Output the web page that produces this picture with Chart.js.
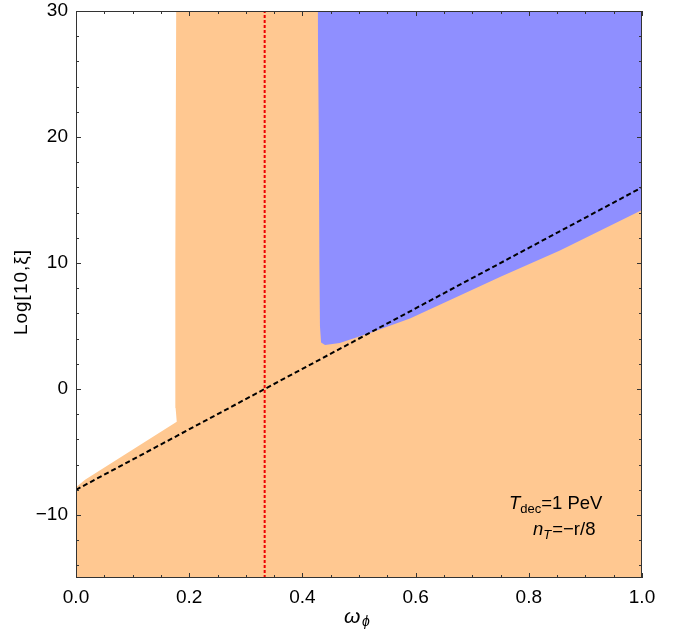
<!DOCTYPE html>
<html>
<head>
<meta charset="utf-8">
<script src="https://cdn.jsdelivr.net/npm/chart.js@4"></script>
<style>
  html, body { margin: 0; padding: 0; background: #fff; }
  #wrap { width: 686px; height: 629px; }
</style>
</head>
<body>
<div id="wrap"><canvas id="myChart"></canvas></div>
<script>
// orange region: upper edge, filled down to the bottom of the plot
const orangeX = [0, 0.016, 0.178, 0.176, 0.175, 0.176, 0.177, 1];
const orangeY = [-7.8, -7.2, -2.6, -1.5, 1, 10, 30, 30];

// blue region: lower/left edge, filled up to the top of the plot
const blueX = [0.427, 0.428, 0.429, 0.430, 0.431, 0.433, 0.440, 0.466, 0.519, 0.590, 0.661, 0.750, 0.855, 1];
const blueY = [30, 25, 20, 10, 5, 3.7, 3.5, 3.65, 4.44, 5.6, 7.06, 8.9, 11.0, 14.2];

// dashed reference line and red dotted line
const dashX = [0, 1];
const dashY = [-8, 16];
const redX = [1 / 3, 1 / 3];
const redY = [-15, 30];

// axis ticks
const xMajor = [0, 0.2, 0.4, 0.6, 0.8, 1];
const xMinor = [0.05, 0.1, 0.15, 0.25, 0.3, 0.35, 0.45, 0.5, 0.55, 0.65, 0.7, 0.75, 0.85, 0.9, 0.95];
const yMajor = [-10, 0, 10, 20, 30];
const yMinor = [-14, -12, -8, -6, -4, -2, 2, 4, 6, 8, 12, 14, 16, 18, 22, 24, 26, 28];

const FONT = "'Liberation Sans', Arial, sans-serif";

function pts(xs, ys)
{
  return xs.map((x, i) => ({x: x, y: ys[i]}));
}

const framePlugin = {
  id: "frame",
  afterDraw(chart) {
    const c = chart.ctx;
    const a = chart.chartArea;
    const sx = chart.scales.x;
    const sy = chart.scales.y;
    c.save();
    c.strokeStyle = "#333";
    c.lineWidth = 1;
    c.strokeRect(a.left + 0.5, a.top + 0.5, a.right - a.left - 1, a.bottom - a.top - 1);

    c.beginPath();
    const tickX = (v, len) => {
      const p = Math.round(sx.getPixelForValue(v)) + 0.5;
      c.moveTo(p, a.bottom); c.lineTo(p, a.bottom - len);
      c.moveTo(p, a.top); c.lineTo(p, a.top + len);
    };
    const tickY = (v, len) => {
      const p = Math.round(sy.getPixelForValue(v)) + 0.5;
      c.moveTo(a.left, p); c.lineTo(a.left + len, p);
      c.moveTo(a.right, p); c.lineTo(a.right - len, p);
    };
    xMajor.forEach(v => tickX(v, 5));
    xMinor.forEach(v => tickX(v, 3));
    yMajor.forEach(v => tickY(v, 5));
    yMinor.forEach(v => tickY(v, 3));
    c.stroke();

    // x title: omega with subscript phi
    c.fillStyle = "#000";
    c.textBaseline = "alphabetic";
    c.textAlign = "left";
    c.font = "italic 21px " + FONT;
    c.fillText("ω", 344, 623);
    c.font = "italic 14px " + FONT;
    c.fillText("ϕ", 362, 626);

    // y title
    c.save();
    c.translate(27, 292);
    c.rotate(-Math.PI / 2);
    c.textAlign = "center";
    c.font = "19px " + FONT;
    c.letterSpacing = "1px";
    c.fillText("Log[10,ξ]", 0, 0);
    c.restore();

    // annotation
    c.textAlign = "left";
    let x = 509;
    c.font = "italic 18.5px " + FONT;
    c.fillText("T", x, 509);
    x += c.measureText("T").width;
    c.font = "13px " + FONT;
    c.fillText("dec", x, 513);
    x += c.measureText("dec").width;
    c.font = "18.5px " + FONT;
    c.fillText("=1 PeV", x, 509);

    x = 533;
    c.font = "italic 18.5px " + FONT;
    c.fillText("n", x, 535);
    x += c.measureText("n").width;
    c.font = "italic 13px " + FONT;
    c.fillText("T", x, 539);
    x += c.measureText("T").width + 1;
    c.font = "18.5px " + FONT;
    c.fillText("=−r/8", x, 535);
    c.restore();
  }
};

new Chart(document.getElementById("myChart"), {
  type: "scatter",
  data: {
    datasets: [
      {
        data: pts(orangeX, orangeY),
        showLine: true,
        fill: "start",
        backgroundColor: "rgb(255,200,145)",
        borderWidth: 0,
        pointRadius: 0,
        order: 4,
      },
      {
        data: pts(blueX, blueY),
        showLine: true,
        fill: "end",
        backgroundColor: "rgb(143,143,255)",
        borderWidth: 0,
        pointRadius: 0,
        order: 3,
      },
      {
        data: pts(dashX, dashY),
        showLine: true,
        borderColor: "#000",
        borderWidth: 2,
        borderDash: [5, 3],
        pointRadius: 0,
        order: 2,
      },
      {
        data: pts(redX, redY),
        showLine: true,
        borderColor: "#e00",
        borderWidth: 2,
        borderDash: [3, 2],
        pointRadius: 0,
        order: 1,
      },
    ],
  },
  options: {
    responsive: true,
    maintainAspectRatio: false,
    animation: false,
    devicePixelRatio: 1,
    layout: {
      padding: {left: 0, top: 11, right: 44, bottom: 0},
    },
    plugins: {
      legend: {display: false},
      tooltip: {enabled: false},
    },
    scales: {
      x: {
        type: "linear",
        min: 0,
        max: 1,
        grid: {display: false, drawTicks: false},
        border: {display: false},
        ticks: {
          stepSize: 0.2,
          padding: 8,
          color: "#000",
          font: {family: FONT, size: 19},
          maxRotation: 0,
          callback: v => v.toFixed(1),
        },
        afterFit: s => { s.height = 51; s.paddingLeft = 0; s.paddingRight = 0; },
      },
      y: {
        type: "linear",
        min: -15,
        max: 30,
        grid: {display: false, drawTicks: false},
        border: {display: false},
        ticks: {
          stepSize: 10,
          includeBounds: false,
          padding: 8,
          color: "#000",
          font: {family: FONT, size: 19},
          callback: v => String(v).replace("-", "−"),
        },
        afterFit: s => { s.width = 76; s.paddingTop = 0; s.paddingBottom = 0; },
      },
    },
  },
  plugins: [framePlugin],
});
</script>
</body>
</html>
